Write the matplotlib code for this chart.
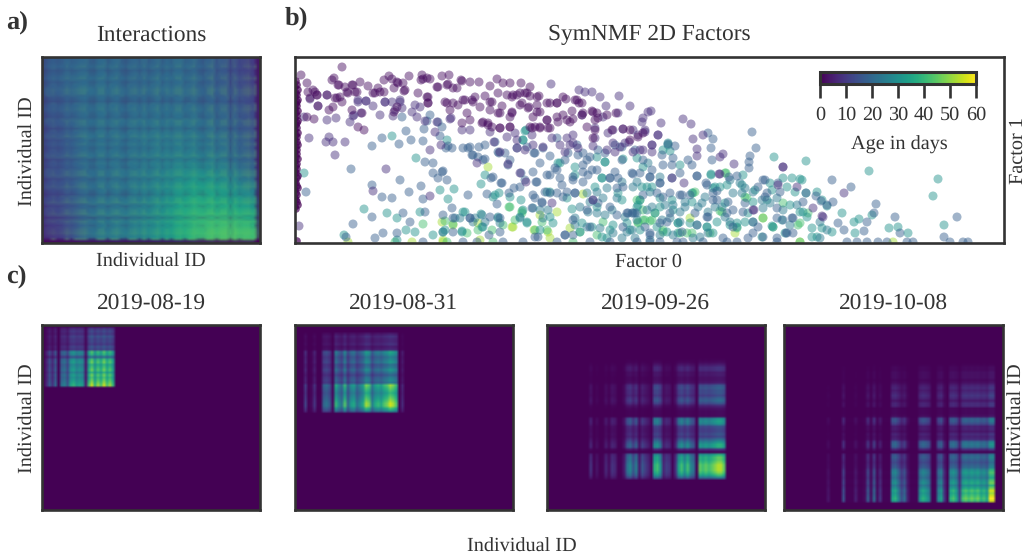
import numpy as np
import matplotlib
matplotlib.use("Agg")
import matplotlib.pyplot as plt
from matplotlib.cm import ScalarMappable
from matplotlib.colors import Normalize, PowerNorm, to_rgb

W, H = 1027, 556
N_IDS = 72
DARK = "#333333"

plt.rcParams["font.family"] = ["Liberation Serif", "DejaVu Serif"]
plt.rcParams["font.size"] = 14.6
plt.rcParams["text.color"] = "#333333"
plt.rcParams["text.hinting"] = "no_hinting"

# a) coarse level of the interaction matrix, and its fine row/column stripes
interactions = [
    [.30, .33, .33, .35, .33, .33, .33, .35, .33, .30, .25, .17],
    [.30, .34, .36, .36, .34, .34, .36, .36, .34, .30, .27, .18],
    [.28, .31, .36, .36, .34, .33, .34, .34, .33, .31, .29, .20],
    [.28, .31, .36, .36, .35, .36, .37, .37, .36, .33, .31, .22],
    [.25, .30, .37, .37, .36, .38, .38, .38, .38, .35, .33, .24],
    [.25, .29, .38, .36, .37, .38, .40, .40, .40, .37, .35, .26],
    [.24, .29, .37, .37, .37, .38, .41, .43, .42, .40, .37, .28],
    [.24, .28, .36, .37, .38, .40, .43, .47, .50, .47, .42, .32],
    [.23, .27, .36, .38, .38, .42, .46, .52, .58, .55, .52, .42],
    [.21, .26, .36, .38, .38, .42, .48, .56, .62, .60, .58, .50],
    [.19, .24, .36, .40, .40, .44, .50, .58, .66, .66, .68, .62],
    [.14, .22, .36, .40, .40, .45, .50, .58, .68, .70, .72, .68],
]
stripes_rows = [.97, .98, 1.02, .94, .98, 1.03, .96, 1.0, 1.05, 1.04, .96, .92,
                1.0, 1.03, .98, .95, 1.04, 1.02, .93, 1.0, 1.05, .97, 1.02, .96,
                1.0, 1.05, .94, 1.0, .97, 1.04, 1.06, .95, 1.02, 1.06, .98, .93,
                1.03, 1.08, .96, 1.04, 1.08, .92, 1.06, .98, 1.05, 1.08, 1.0, .50]
stripes_cols = [.88, .97, 1.0, .96, .98, 1.03, .98, 1.0, 1.03, 1.04, .96, .94,
                1.02, 1.03, .94, 1.0, 1.04, .97, .93, 1.0, 1.03, .97, 1.04, .96,
                1.0, 1.05, .96, 1.02, .97, 1.04, 1.05, .97, 1.0, 1.06, .98, .95,
                1.03, 1.08, .96, 1.04, 1.06, .91, 1.06, .98, 1.05, 1.08, 1.02, .60]

# c) activity per individual, (first active id, values)
dates = ["2019-08-19", "2019-08-31", "2019-09-26", "2019-10-08"]
peak = [.95, .95, .92, 1.0]
cols_c = [
    (1, [.25, .45, .3, .5, .05, .55, .6, .45, .75, .8, .7, .75, .7, .2, .85, 1, .8, .95, .85, 1, .85, .95, .8]),
    (2, [.05, .35, .03, .1, .3, .03, .05, .5, .55, .45, .1, .8, .65, .55, .85, .5, .7, .75, .55, .65, .75,
         .95, .9, .6, .75, .8, .75, .85, .9, 1, .95, .85, .05, .25]),
    (14, [.3, .02, .15, .02, .05, .25, .1, .3, .25, .05, .05, .2, .55, .65, .45, .6, .2, .45, .35, .25, .1,
          .8, .85, .7, .25, .35, .3, .05, .3, .75, .85, .7, .85, .65, .55, .02, .9, .85, .9, .85, .9, .95,
          1, 1, .9]),
    (14, [.15, .02, .02, .02, .02, .4, .05, .05, .05, .2, .05, .05, .1, .45, .1, .5, .1, .3, .05, .05, .05,
          .7, .75, .6, .4, .5, .2, .05, .05, .05, .65, .75, .7, .6, .05, .05, .6, .7, .3, .05, .75, .8, .7,
          .35, .8, .85, .8, .85, .8, .85, .75, .8, .7, 1, 1]),
]
rows_c = [
    (1, [.35, .4, .35, .45, .4, .4, .35, .45, .4, .85, .8, .55, .85, .9, .8, .85, .9, .8, .9, .85, .9, .95, 1]),
    (3, [.2, .3, .25, .25, .3, .2, .25, .75, .7, .6, .65, .7, .55, .6, .7, .6, .5, .6, .65, .6, .95, .9, .85,
         .8, .85, .9, .95, 1, 1, .85, .7]),
    (13, [.05, .1, .2, .3, .3, .2, .2, .15, .15, .2, .45, .5, .45, .45, .4, .5, .55, .45, .25, .15, .1, .1, .1,
          .7, .75, .7, .45, .4, .4, .45, .4, .55, .7, .8, .8, .3, .05, .8, .9, .9, .95, 1, 1, 1, .95, .85, .6]),
    (15, [.05, .1, .1, .15, .15, .15, .1, .15, .25, .3, .25, .3, .35, .3, .2, .3, .3, .1, .1, .1, .15, .55, .55,
          .45, .25, .25, .2, .3, .25, .3, .6, .65, .6, .3, .03, .55, .6, .55, .5, .55, .6, .75, .8, .75, .7, .8,
          .85, .75, .85, .95, .9, .95, 1, .95]),
]

# b) factor 0, factor 1 per age group
ages = [2, 8, 18, 24, 30, 42, 52]
group_2 = [
    (47, 176), (6, 168), (12, 160), (37, 163), (44, 158), (57, 158), (65, 161), (73, 157), (83, 155), (89, 163),
    (94, 167), (102, 161), (108, 160), (114, 167), (127, 168), (128, 164), (135, 164), (147, 167), (154, 168),
    (167, 162), (175, 161), (184, 161), (195, 157), (202, 164), (208, 160), (215, 160), (226, 160), (235, 156),
    (40, 145), (45, 146), (38, 136), (34, 133), (15, 145), (20, 151), (22, 148), (32, 148), (52, 151), (60, 151),
    (78, 150), (85, 151), (110, 153), (102, 136), (99, 131), (123, 150), (132, 146), (133, 140), (142, 156),
    (152, 158), (158, 155), (150, 141), (158, 140), (168, 143), (177, 143), (185, 136), (195, 141), (203, 150),
    (212, 148), (218, 148), (225, 150), (232, 150), (242, 146), (252, 140), (262, 140), (268, 146), (225, 138),
    (233, 135), (217, 130), (205, 130), (195, 133), (242, 131), (252, 123), (262, 126), (272, 123), (282, 143),
    (287, 140), (288, 130), (298, 131), (303, 125), (193, 118), (188, 121), (175, 123), (167, 120), (205, 115),
    (215, 116), (237, 115), (245, 115), (253, 115), (12, 126), (19, 124), (57, 133), (67, 130), (63, 116), (69, 113),
    (300, 113), (317, 113), (328, 114), (335, 113), (298, 105), (335, 103), (343, 106), (348, 110),
    (39, 165), (43, 158), (50, 156), (58, 158), (97, 164), (103, 160), (126, 163), (132, 165), (153, 159), (166, 163),
    (13, 151), (18, 153), (22, 148), (23, 137), (42, 145), (47, 141), (53, 150), (62, 151), (80, 150), (89, 151),
    (99, 155), (109, 152), (133, 146), (133, 140), (143, 156), (152, 140), (162, 155), (170, 143), (172, 130),
    (180, 146), (190, 147), (155, 133), (163, 138), (178, 141), (187, 120), (193, 120), (217, 146), (222, 148),
    (230, 150), (235, 147), (244, 147), (207, 137), (197, 141), (203, 130), (217, 131), (227, 140), (234, 136),
    (242, 138), (255, 140), (262, 140), (271, 144), (280, 143), (284, 140), (215, 126), (238, 126), (245, 131),
    (252, 123), (277, 132), (287, 128), (297, 132), (302, 130), (321, 130), (312, 128), (268, 128), (263, 121),
    (278, 124), (275, 121), (300, 123), (292, 116), (235, 116), (240, 116), (245, 116), (255, 115), (215, 116),
    (205, 115), (197, 116),
]
group_8 = [
    (256, 159), (284, 153), (290, 151), (297, 151), (305, 146), (324, 147), (335, 137), (311, 137), (63, 141),
    (71, 142), (90, 141), (97, 141), (105, 143), (85, 128), (58, 127), (32, 123), (41, 125), (55, 121), (34, 106),
    (50, 101), (31, 101), (38, 101), (14, 105), (40, 88), (353, 131), (323, 130), (347, 121), (308, 126), (287, 128),
    (175, 113), (156, 125), (130, 122), (142, 121), (140, 111), (330, 100), (356, 132), (348, 125), (366, 120),
    (388, 124), (396, 119), (350, 113), (363, 108), (398, 104), (408, 108), (348, 93), (357, 98), (402, 94), (402, 87),
    (428, 89), (425, 86), (439, 79), (424, 69), (488, 76), (502, 56), (549, 50), (518, 35), (527, 27), (458, 33),
    (483, 58), (135, 93), (146, 98), (91, 74), (78, 52), (135, 47), (4, 17), (15, 144), (23, 137), (32, 148), (63, 143),
    (71, 142), (78, 137), (90, 141), (105, 141), (107, 135), (100, 133), (117, 131), (120, 138), (125, 136), (9, 126),
    (66, 130), (59, 128), (98, 127), (122, 126), (155, 124), (167, 113), (195, 111), (220, 110), (199, 101), (222, 103),
    (237, 108), (248, 96), (257, 105), (265, 98), (272, 105), (278, 108), (300, 115), (300, 105), (298, 97), (313, 110),
    (318, 113), (328, 114), (338, 113), (350, 111), (363, 108), (343, 108), (334, 101), (318, 100), (325, 96), (312, 93),
    (320, 91), (345, 93), (357, 98), (357, 91), (338, 91), (283, 95), (275, 98), (278, 100), (270, 91), (238, 98),
    (230, 93), (222, 95), (205, 91), (212, 106), (425, 69), (459, 33), (528, 26), (488, 76), (225, 70), (231, 61),
    (213, 79), (182, 80), (377, 65), (389, 60), (298, 43), (257, 40),
]
group_18 = [
    (77, 97), (87, 105), (104, 99), (111, 112), (116, 103), (128, 102), (151, 95), (157, 95), (168, 95), (175, 96),
    (190, 98), (178, 88), (183, 86), (188, 83), (203, 91), (210, 90), (222, 95), (232, 96), (240, 90), (248, 95),
    (262, 105), (273, 90), (282, 98), (288, 90), (295, 86), (303, 93), (320, 98), (327, 96), (340, 93), (130, 81),
    (138, 80), (138, 70), (143, 65), (147, 71), (152, 63), (56, 74), (105, 63), (77, 58), (87, 46), (97, 45), (114, 51),
    (126, 57), (128, 44), (173, 48), (192, 49), (202, 39), (226, 70), (215, 83), (213, 78), (198, 66), (207, 60),
    (242, 61), (252, 68), (262, 73), (270, 83), (278, 66), (288, 61), (297, 73), (315, 65), (323, 65), (337, 70),
    (328, 56), (315, 36), (298, 43), (272, 51), (280, 50), (262, 50), (250, 51), (240, 45), (225, 56), (247, 40),
    (11, 51), (77, 26), (58, 19), (108, 30), (115, 21), (130, 31), (148, 28), (157, 35), (175, 25), (195, 26), (80, 5),
    (88, 10), (102, 10), (51, 6), (158, 11), (205, 11), (243, 6), (270, 8), (278, 8), (295, 16), (333, 30), (340, 30),
    (328, 16), (373, 99), (380, 97), (416, 95), (418, 104), (413, 110), (457, 111), (461, 95), (455, 87), (454, 81),
    (454, 75), (417, 83), (393, 83), (378, 85), (367, 88), (385, 70), (377, 65), (365, 60), (355, 66), (402, 67),
    (412, 58), (434, 66), (442, 67), (470, 63), (485, 51), (511, 50), (521, 47), (526, 42), (538, 41), (537, 63),
    (556, 56), (581, 39), (579, 30), (600, 26), (605, 10), (569, 12), (572, 21), (549, 13), (543, 20), (532, 38),
    (498, 25), (491, 10), (498, 10), (468, 6), (458, 10), (432, 30), (422, 43), (395, 48), (387, 48), (375, 30),
    (365, 20), (355, 8), (649, 6), (413, 26), (402, 18), (387, 11), (662, 26), (355, 1), (365, 1), (382, 1), (388, 1),
    (408, 1), (432, 1), (442, 1), (482, 1), (552, 1), (562, 1), (572, 1), (583, 1), (592, 1), (612, 1), (618, 1),
    (655, 1), (668, 1), (673, 1), (128, 1), (168, 1), (182, 1), (208, 1), (228, 1), (262, 1), (295, 1), (315, 1), (342, 1),
    (148, 72), (196, 65), (206, 60), (230, 63), (241, 61), (219, 55), (214, 50), (238, 71), (255, 68), (260, 75), (265, 65),
    (278, 63), (288, 71), (293, 68), (302, 73), (320, 71), (315, 65), (322, 55), (303, 40), (332, 30), (322, 28), (292, 33),
    (278, 23), (270, 8), (240, 6), (194, 8), (175, 25), (158, 25), (205, 25), (237, 35), (247, 41), (238, 48), (268, 46),
    (267, 58), (255, 50), (280, 50), (245, 80), (190, 84), (177, 88), (204, 90), (255, 87), (239, 90), (283, 88), (292, 83),
    (310, 90), (327, 83), (288, 78), (402, 67), (411, 60), (422, 52), (418, 43), (433, 41), (450, 40), (468, 63), (483, 60),
    (472, 50), (463, 56), (438, 33), (448, 31), (412, 26), (400, 30), (385, 48), (375, 50), (365, 60), (355, 66), (345, 70),
    (338, 69), (368, 78), (377, 78), (397, 78), (482, 25), (497, 25), (488, 23), (508, 41), (482, 35), (470, 46), (458, 21),
    (463, 16), (438, 16), (355, 10), (350, 16), (492, 10), (482, 5), (453, 5), (428, 5), (372, 21), (418, 50), (368, 46),
    (362, 50), (348, 48), (338, 30), (348, 83), (357, 73), (107, 126), (135, 128), (132, 122), (143, 121), (147, 116),
    (129, 114), (145, 107), (153, 97), (173, 95), (184, 96), (200, 101),
]
group_24 = [
    (148, 11), (160, 25), (165, 25), (180, 25), (187, 28), (190, 21), (178, 21), (203, 26), (205, 20), (225, 25), (238, 35),
    (245, 33), (248, 25), (253, 33), (280, 25), (280, 18), (292, 16), (305, 15), (318, 10), (330, 26), (337, 30), (342, 23),
    (332, 11), (327, 5), (302, 30), (310, 28), (317, 33), (293, 31), (285, 36), (295, 41), (308, 45), (322, 45), (292, 50),
    (302, 51), (312, 55), (327, 61), (338, 56), (342, 30), (352, 33), (357, 36), (370, 38), (378, 38), (385, 31), (390, 36),
    (367, 23), (375, 25), (385, 21), (403, 36), (413, 31), (420, 36), (427, 36), (430, 26), (435, 21), (413, 10), (405, 6),
    (398, 5), (378, 8), (365, 8), (337, 13), (340, 5), (355, 3), (447, 50), (438, 50), (450, 55), (458, 51), (467, 43),
    (475, 40), (468, 35), (482, 45), (502, 38), (525, 21), (532, 13), (525, 5), (495, 18), (488, 33), (445, 60), (435, 63),
    (410, 46), (407, 40), (390, 41), (355, 51), (365, 66), (353, 80), (342, 61),
]
group_30 = [
    (9, 70), (121, 85), (97, 107), (152, 103), (231, 113), (228, 103), (190, 68), (186, 59), (145, 53), (159, 54),
    (69, 34), (92, 30), (102, 25), (125, 31), (153, 44), (168, 31), (186, 29), (204, 50), (198, 46), (215, 46), (228, 33),
    (232, 21), (203, 25), (187, 16), (167, 11), (148, 11), (138, 8), (120, 11), (111, 13), (102, 3), (49, 8), (258, 20),
    (277, 34), (287, 20), (300, 56), (310, 81), (307, 65), (280, 76), (328, 84), (342, 85), (348, 76), (352, 56),
    (323, 50), (302, 36), (342, 36), (332, 20), (315, 13), (307, 6), (263, 80), (255, 51), (225, 26), (479, 86),
    (511, 82), (574, 72), (643, 64), (638, 47), (649, 18), (594, 15), (613, 10), (603, 16), (559, 21), (564, 24),
    (547, 30), (577, 28), (505, 64), (497, 65), (488, 65), (448, 68), (432, 58), (447, 58), (460, 53), (475, 60),
    (492, 56), (416, 69), (373, 100), (385, 78), (357, 56), (347, 56), (377, 43), (365, 45), (383, 20), (360, 30),
    (420, 56), (430, 40), (458, 41), (472, 43), (495, 38), (512, 26), (517, 15), (477, 17), (458, 21), (442, 20),
    (412, 16), (395, 20), (487, 23), (537, 11), (560, 10), (522, 51), (505, 31), (522, 6), (170, 31), (200, 48), (226, 43),
    (232, 20), (255, 26), (188, 16), (167, 12), (150, 13), (252, 51), (272, 45), (280, 68), (307, 65), (310, 81), (265, 80),
    (327, 43), (343, 38), (297, 16), (285, 11), (335, 13), (302, 86), (318, 18), (245, 13), (312, 5), (416, 68), (397, 50),
    (345, 43), (418, 55), (507, 63), (500, 51), (511, 50), (508, 31), (532, 37), (527, 43), (453, 30), (478, 16), (467, 6),
    (442, 16), (418, 10), (383, 10), (372, 11), (362, 16), (345, 13), (412, 16), (383, 20), (365, 36), (378, 33), (397, 41),
    (425, 56), (477, 53), (490, 10), (450, 21), (435, 18), (422, 21), (402, 18), (517, 6), (527, 15), (230, 112), (228, 103),
    (373, 98), (375, 92), (368, 93),
]
group_42 = [
    (215, 36), (158, 19), (128, 19), (172, 10), (240, 13), (208, 18), (285, 11), (247, 21), (343, 20), (345, 43),
    (348, 33), (227, 30), (100, 1), (152, 1), (198, 1), (278, 1), (431, 70), (488, 40), (468, 25), (513, 30), (355, 22),
    (348, 23), (425, 32), (400, 51), (450, 46), (415, 10), (368, 11), (385, 10), (505, 20), (478, 16), (214, 36), (227, 32),
    (220, 23), (197, 13), (183, 13), (252, 13), (308, 21), (150, 22), (302, 8), (342, 43), (350, 23), (357, 23), (343, 21),
    (360, 30), (452, 45), (398, 50), (427, 31), (430, 70), (503, 18), (505, 1), (442, 15), (368, 13), (392, 10), (397, 10),
]
group_52 = [
    (193, 76), (288, 49), (262, 31), (275, 15), (117, 1), (148, 1), (53, 1), (183, 20), (218, 16), (253, 11), (147, 21),
    (395, 25), (440, 10), (468, 25), (505, 1), (598, 1), (158, 18), (239, 13), (217, 16), (245, 28), (148, 3), (185, 3), (255, 5),
]
# the very dark column of young individuals at factor 0 close to zero
edge_f0 = [1, 2, 0, 3, 1, 2, 0, 3, 2, 1, 2, 0, 3, 1, 2, 0, 3, 2, 1, 2, 0, 3, 1, 2, 0, 2, 3, 1, 2, 0, 2, 1, 3, 0, 2, 1, 2, 0,
           1, 3, 2, 0, 1, 2, 3, 0, 1, 2, 0, 1, 2, 3, 0, 1, 2]
edge_f1 = [162, 158, 156, 153, 150, 148, 146, 143, 141, 139, 137, 134, 132, 130, 127, 125, 122, 120, 118, 115, 113, 110,
           108, 106, 103, 101, 98, 96, 93, 91, 89, 86, 84, 82, 79, 77, 74, 72, 70, 67, 65, 62, 60, 57, 55, 53, 50, 48, 45,
           43, 41, 38, 36, 34, 2]


def px_axes(left, top, right, bottom):
    ax = fig.add_axes([left / W, 1 - bottom / H, (right - left) / W, (bottom - top) / H])
    ax.set_xticks([])
    ax.set_yticks([])
    for s in ax.spines.values():
        s.set_linewidth(1.9)
        s.set_color(DARK)
    return ax


def px_text(x, y, s, **kw):
    kw.setdefault("ha", "center")
    fig.text(x / W, 1 - y / H, s, va="center", **kw)


def activity(first, values):
    out = np.zeros(N_IDS)
    out[first:first + len(values)] = values
    return out


def stripe_layer(rows, cols):
    # dims towards purple and lifts towards green, like moving along viridis
    val = np.outer(rows, cols) - 1
    rgba = np.zeros(val.shape + (4,))
    rgba[val < 0, :3] = to_rgb("#440154")
    rgba[val >= 0, :3] = to_rgb("#7ad151")
    rgba[..., 3] = np.clip(np.abs(val) * 1.5, 0, 1)
    return rgba


fig = plt.figure(figsize=(W / 100, H / 100), dpi=100)

# a) interactions
ax_a = px_axes(42, 57, 260, 243)
ax_a.imshow(interactions, cmap="viridis", vmin=0, vmax=1, aspect="auto", interpolation="bicubic",
            extent=(0, 1, 1, 0))
ax_a.imshow(stripe_layer(stripes_rows, stripes_cols), aspect="auto", interpolation="bilinear", extent=(0, 1, 1, 0))

# b) factors
ax_b = px_axes(295, 57, 1004, 243)
groups = [group_52, group_42, group_30, group_24, group_18, group_8, group_2]
for age, pts in zip(ages[::-1], groups):
    f0, f1 = zip(*pts)
    ax_b.scatter(f0, f1, c=[age] * len(pts), cmap="viridis", vmin=0, vmax=60, s=42, alpha=0.47, linewidths=0)
ax_b.scatter(edge_f0, edge_f1, c=[0] * len(edge_f0), cmap="viridis", vmin=0, vmax=60, s=30, alpha=0.7, linewidths=0)
ax_b.set_xlim(0, 709)
ax_b.set_ylim(0, 186)

cax = fig.add_axes([820 / W, 1 - 84 / H, 156 / W, 12 / H])
cb = fig.colorbar(ScalarMappable(Normalize(0, 60), "viridis"), cax=cax, orientation="horizontal")
cb.set_ticks(range(0, 61, 10))
cb.ax.tick_params(length=10, width=1.9, color=DARK, labelsize=14.6, pad=6, labelcolor="#333333")
cb.outline.set_linewidth(2.2)
cb.outline.set_edgecolor(DARK)
px_text(899, 145, "Age in days")

# c) snapshots
boxes = [(42, 260), (295, 513), (547, 765), (784, 1003)]
for i, (left, right) in enumerate(boxes):
    ax = px_axes(left, 325, right, 510)
    grid = np.outer(activity(*rows_c[i]), activity(*cols_c[i])) * peak[i]
    ax.imshow(grid, cmap="viridis", norm=PowerNorm(1.5, vmin=0, vmax=1), aspect="auto", interpolation="bilinear")
    px_text((left + right) / 2, 303, dates[i], fontsize=16.8)

px_text(6, 22, "a)", ha="left", fontweight="bold", fontsize=19)
px_text(285, 18, "b)", ha="left", fontweight="bold", fontsize=19)
px_text(6, 276, "c)", ha="left", fontweight="bold", fontsize=19)
px_text(151, 35, "Interactions", fontsize=16.8)
px_text(649, 35, "SymNMF 2D Factors", fontsize=16.8)
px_text(151, 262, "Individual ID")
px_text(648, 262, "Factor 0")
px_text(1018, 151, "Factor 1", rotation=90)
px_text(28, 151, "Individual ID", rotation=90)
px_text(28, 418, "Individual ID", rotation=90)
px_text(1017, 418, "Individual ID", rotation=90)
px_text(522, 547, "Individual ID")

fig.savefig("out.png", dpi=100)
plt.close(fig)
